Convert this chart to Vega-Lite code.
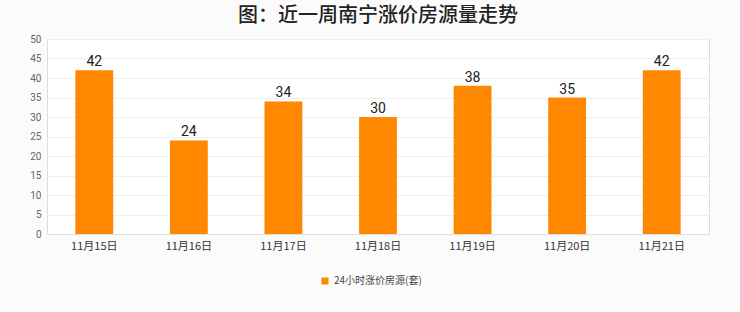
{
  "$schema": "https://vega.github.io/schema/vega-lite/v6.json",
  "width": 662,
  "height": 195,
  "autosize": {"type": "none"},
  "padding": {"left": 47, "top": 39, "right": 31, "bottom": 78},
  "background": "#fbfbfb",
  "title": {
    "text": "图：近一周南宁涨价房源量走势",
    "font": "Noto Sans CJK SC",
    "fontSize": 20,
    "fontWeight": 500,
    "color": "#222222",
    "anchor": "middle",
    "offset": 8
  },
  "config": {
    "view": {"fill": "#ffffff", "stroke": "#dddddd", "strokeWidth": 1}
  },
  "data": {
    "values": [
      {"date": "11月15日", "value": 42, "series": "24小时涨价房源(套)"},
      {"date": "11月16日", "value": 24, "series": "24小时涨价房源(套)"},
      {"date": "11月17日", "value": 34, "series": "24小时涨价房源(套)"},
      {"date": "11月18日", "value": 30, "series": "24小时涨价房源(套)"},
      {"date": "11月19日", "value": 38, "series": "24小时涨价房源(套)"},
      {"date": "11月20日", "value": 35, "series": "24小时涨价房源(套)"},
      {"date": "11月21日", "value": 42, "series": "24小时涨价房源(套)"}
    ]
  },
  "encoding": {
    "x": {
      "field": "date",
      "type": "nominal",
      "sort": null,
      "scale": {"paddingInner": 0.6, "paddingOuter": 0.3},
      "axis": {
        "title": null,
        "labelAngle": 0,
        "labelFont": "Noto Sans CJK SC",
        "labelFontSize": 11,
        "labelColor": "#333333",
        "ticks": false,
        "domainColor": "#dddddd",
        "labelPadding": 6
      }
    },
    "y": {
      "field": "value",
      "type": "quantitative",
      "scale": {"domain": [0, 50]},
      "axis": {
        "title": null,
        "values": [0, 5, 10, 15, 20, 25, 30, 35, 40, 45, 50],
        "labelFont": "Roboto",
        "labelFontSize": 10,
        "labelColor": "#666666",
        "ticks": false,
        "domain": false,
        "gridColor": "#eeeeee",
        "labelPadding": 6
      }
    }
  },
  "layer": [
    {
      "mark": {"type": "bar", "color": "#ff8800"},
      "encoding": {
        "color": {
          "field": "series",
          "type": "nominal",
          "scale": {"range": ["#ff8800"]},
          "legend": {
            "title": null,
            "orient": "none",
            "legendX": 273,
            "legendY": 237,
            "symbolType": "square",
            "symbolSize": 50,
            "labelFont": "Noto Sans CJK SC",
            "labelFontSize": 10,
            "labelColor": "#444444"
          }
        }
      }
    },
    {
      "mark": {"type": "text", "dy": -8, "font": "Roboto", "fontSize": 14, "color": "#222222"},
      "encoding": {"text": {"field": "value", "type": "quantitative"}}
    }
  ]
}
